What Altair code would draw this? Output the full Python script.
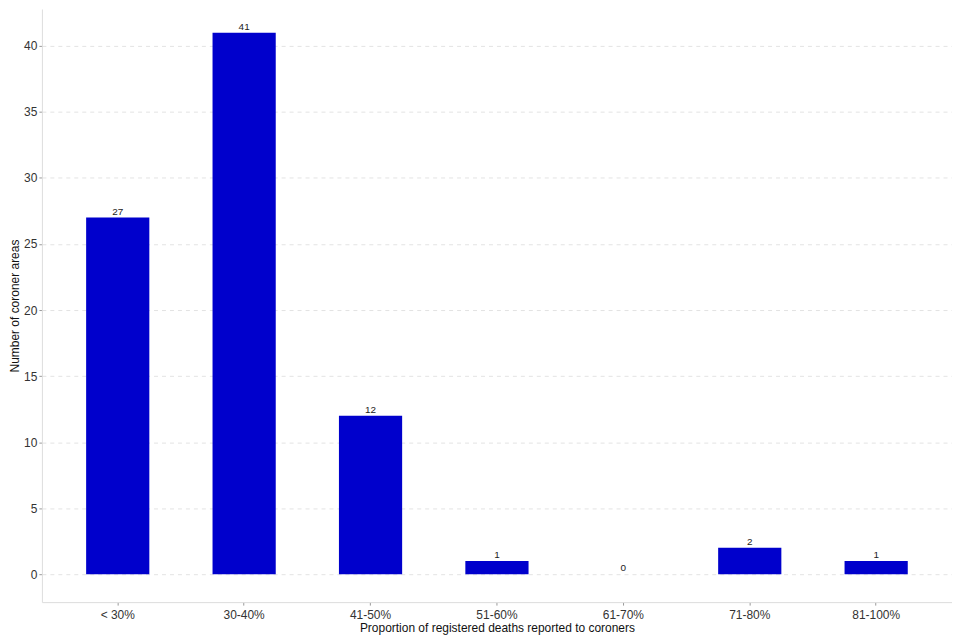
import altair as alt
import pandas as pd

categories = ["< 30%", "30-40%", "41-50%", "51-60%", "61-70%", "71-80%", "81-100%"]
counts = [27, 41, 12, 1, 0, 2, 1]

df = pd.DataFrame({"cat": categories, "n": counts})

FONT = "Liberation Sans"
DOMAIN = [-2.11, 42.79]

x = alt.X("cat:N", sort=categories,
          scale=alt.Scale(paddingInner=0.5, paddingOuter=0.35),
          axis=alt.Axis(title="Proportion of registered deaths reported to coroners",
                        labelAngle=0, labelFontSize=12, labelColor="#333333",
                        titleFontSize=12, titleFontWeight="normal", titleColor="#111111",
                        titlePadding=2, tickColor="#999999", tickSize=3,
                        domainColor="#dddddd", labelPadding=4, grid=False,
                        labelFont=FONT, titleFont=FONT))
y = alt.Y("n:Q",
          scale=alt.Scale(domain=DOMAIN, nice=False, zero=False),
          axis=alt.Axis(title="Number of coroner areas", values=[0, 5, 10, 15, 20, 25, 30, 35, 40],
                        labelFontSize=12, labelColor="#333333",
                        titleFontSize=12, titleFontWeight="normal", titleColor="#111111",
                        titlePadding=2, tickColor="#999999", tickSize=3,
                        domainColor="#dddddd", labelPadding=2,
                        grid=True, gridColor="#e3e3e3", gridDash=[4, 4],
                        labelFont=FONT, titleFont=FONT))

bars = alt.Chart(df).mark_bar(color="#0000CC").encode(x=x, y=y, y2=alt.datum(0))

labels = alt.Chart(df).mark_text(dy=-6, fontSize=10, color="#222222", font=FONT).encode(
    x=alt.X("cat:N", sort=categories), y="n:Q", text="n:Q"
)

chart = (bars + labels).properties(
    width=913, height=595,
    autosize=alt.AutoSizeParams(type="none"),
    padding={"left": 34, "top": 0, "right": 0, "bottom": 36},
).configure(font=FONT).configure_view(stroke=None)

chart.save("out.html", embed_options={"renderer": "svg", "actions": False})
